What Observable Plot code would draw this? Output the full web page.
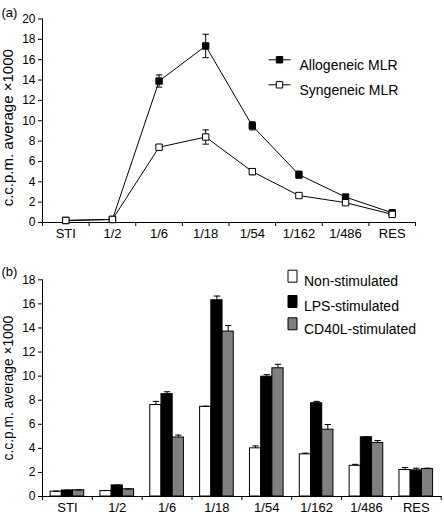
<!DOCTYPE html>
<html>
<head>
<meta charset="utf-8">
<script src="https://cdn.jsdelivr.net/npm/d3@7"></script>
<script src="https://cdn.jsdelivr.net/npm/@observablehq/plot@0.6"></script>
<style>
  body { margin: 0; background: white; }
  #chart svg { display: block; }
</style>
</head>
<body>
<div id="chart"></div>
<script>
// ---- data ----
const categories = ["STI", "1/2", "1/6", "1/18", "1/54", "1/162", "1/486", "RES"];

// Panel (a): line chart
const seriesA = ["Allogeneic MLR", "Syngeneic MLR"];
const alloMean = [0.2, 0.3, 13.9, 17.35, 9.5, 4.7, 2.5, 0.95];
const alloErr  = [0.05, 0.05, 0.6, 1.15, 0.4, 0.35, 0.2, 0.15];
const synMean  = [0.2, 0.3, 7.4, 8.4, 5.0, 2.65, 1.95, 0.8];
const synErr   = [0.05, 0.05, 0.2, 0.7, 0.3, 0.1, 0.1, 0.1];
const yTicksA  = [0, 2, 4, 6, 8, 10, 12, 14, 16, 18, 20];

// Panel (b): grouped bars
const seriesB = ["Non-stimulated", "LPS-stimulated", "CD40L-stimulated"];
const nonMean = [0.4, 0.45, 7.6, 7.45, 4.0, 3.5, 2.55, 2.2];
const nonErr  = [0.05, 0.05, 0.3, 0.05, 0.2, 0.1, 0.12, 0.2];
const lpsMean = [0.5, 0.92, 8.5, 16.3, 9.95, 7.75, 4.92, 2.17];
const lpsErr  = [0.03, 0.03, 0.2, 0.35, 0.17, 0.15, 0.03, 0.18];
const cdMean  = [0.52, 0.6, 4.9, 13.7, 10.65, 5.55, 4.45, 2.28];
const cdErr   = [0.02, 0.02, 0.2, 0.5, 0.33, 0.43, 0.2, 0.07];
const yTicksB = [0, 2, 4, 6, 8, 10, 12, 14, 16, 18];

const yLabel = "c.c.p.m. average \u00d71000";

// ---- tables ----
const tableA = [];
[[alloMean, alloErr], [synMean, synErr]].forEach(([m, e], s) => {
  categories.forEach((c, i) => tableA.push({series: seriesA[s], s, i, cat: c, value: m[i], err: e[i]}));
});
const tableB = [];
[[nonMean, nonErr], [lpsMean, lpsErr], [cdMean, cdErr]].forEach(([m, e], s) => {
  categories.forEach((c, i) => tableB.push({series: seriesB[s], s, i, cat: c, value: m[i], err: e[i]}));
});

const font = "'Liberation Sans', Arial, Helvetica, sans-serif";
const centers = categories.map((c, i) => i + 0.5);
const bounds = d3.range(categories.length + 1);

// custom symbols
const capSymbol = {draw(ctx) { ctx.moveTo(-3.2, 0); ctx.lineTo(3.2, 0); }};
const lineSquare = {draw(ctx) {
  ctx.moveTo(-11, 0); ctx.lineTo(-3.2, 0);
  ctx.moveTo(3.2, 0); ctx.lineTo(11, 0);
  ctx.moveTo(-3.2, -3.2); ctx.lineTo(3.2, -3.2); ctx.lineTo(3.2, 3.2); ctx.lineTo(-3.2, 3.2); ctx.closePath();
}};
const boxSymbol = {draw(ctx) {
  ctx.moveTo(-4.5, -6); ctx.lineTo(4.5, -6); ctx.lineTo(4.5, 6); ctx.lineTo(-4.5, 6); ctx.closePath();
}};

const fillA = {"Allogeneic MLR": "black", "Syngeneic MLR": "white"};
const fillB = {"Non-stimulated": "white", "LPS-stimulated": "black", "CD40L-stimulated": "#808080"};

// ---- panel (a) ----
const legendA = [];
seriesA.forEach((name, k) => {
  legendA.push(Plot.dot([name], {frameAnchor: "top-left", dx: 237, dy: 40.8 + 25 * k, symbol: lineSquare, fill: fillA[name], stroke: "black", strokeWidth: 1}));
  legendA.push(Plot.text([name], {frameAnchor: "top-left", dx: 257, dy: 40.8 + 25 * k, textAnchor: "start", fontSize: 14, fill: "black"}));
});

const plotA = Plot.plot({
  width: 444, height: 250,
  marginLeft: 42, marginRight: 29, marginTop: 18.5, marginBottom: 28,
  x: {domain: [0, categories.length], axis: null},
  y: {domain: [0, 20], axis: null},
  style: {fontFamily: font, fontSize: "12px", color: "black", background: "white", overflow: "visible"},
  marks: [
    Plot.frame({anchor: "left", stroke: "black"}),
    Plot.frame({anchor: "bottom", stroke: "black"}),
    Plot.axisY({ticks: yTicksA, tickSize: 4, tickPadding: 3, fontSize: 12, label: null, stroke: "black"}),
    Plot.axisX({ticks: bounds, tickSize: 4, tickFormat: () => "", label: null, stroke: "black"}),
    Plot.axisX({ticks: centers, tickSize: 0, tickPadding: 6, fontSize: 13, tickFormat: d => categories[Math.floor(d)], label: null}),
    Plot.text([yLabel], {frameAnchor: "left", textAnchor: "middle", dx: -34, dy: 7, rotate: -90, fontSize: 15, fill: "black"}),
    Plot.text(["(a)"], {frameAnchor: "top-left", dx: -41, dy: -11, textAnchor: "start", fontSize: 13, fill: "black"}),
    Plot.ruleX(tableA, {x: d => d.i + 0.5, y1: d => d.value - d.err, y2: d => d.value + d.err, stroke: "black", strokeWidth: 1}),
    Plot.dot(tableA, {x: d => d.i + 0.5, y: d => d.value - d.err, symbol: capSymbol, fill: "none", stroke: "black", strokeWidth: 1}),
    Plot.dot(tableA, {x: d => d.i + 0.5, y: d => d.value + d.err, symbol: capSymbol, fill: "none", stroke: "black", strokeWidth: 1}),
    Plot.line(tableA, {x: d => d.i + 0.5, y: "value", z: "series", stroke: "black", strokeWidth: 1}),
    Plot.dot(tableA, {x: d => d.i + 0.5, y: "value", symbol: "square", r: 3.6, fill: d => fillA[d.series], stroke: "black", strokeWidth: 1}),
    ...legendA
  ]
});

// ---- panel (b) ----
const pad = 0.1625, bw = 0.225;
const legendB = [];
const legendDy = [25.7, 51, 73.3];
seriesB.forEach((name, k) => {
  legendB.push(Plot.dot([name], {frameAnchor: "top-left", dx: 250, dy: legendDy[k] - 29.3, symbol: boxSymbol, fill: fillB[name], stroke: "black", strokeWidth: 1}));
  legendB.push(Plot.text([name], {frameAnchor: "top-left", dx: 261.5, dy: legendDy[k] - 29.3, textAnchor: "start", fontSize: 14, fill: "black"}));
});

const plotB = Plot.plot({
  width: 444, height: 264,
  marginLeft: 42, marginRight: 3.3, marginTop: 29.3, marginBottom: 18,
  x: {domain: [0, categories.length], axis: null},
  y: {domain: [0, 18], axis: null},
  style: {fontFamily: font, fontSize: "12px", color: "black", background: "white", overflow: "visible"},
  marks: [
    Plot.rectY(tableB, {x1: d => d.i + pad + d.s * bw, x2: d => d.i + pad + (d.s + 1) * bw, y: "value", fill: d => fillB[d.series], stroke: "black", strokeWidth: 1}),
    Plot.ruleX(tableB, {x: d => d.i + pad + (d.s + 0.5) * bw, y1: "value", y2: d => d.value + d.err, stroke: "black", strokeWidth: 1}),
    Plot.dot(tableB, {x: d => d.i + pad + (d.s + 0.5) * bw, y: d => d.value + d.err, symbol: capSymbol, fill: "none", stroke: "black", strokeWidth: 1}),
    Plot.frame({anchor: "left", stroke: "black"}),
    Plot.frame({anchor: "bottom", stroke: "black"}),
    Plot.axisY({ticks: yTicksB, tickSize: 4, tickPadding: 3, fontSize: 12, label: null, stroke: "black"}),
    Plot.axisX({ticks: bounds, tickSize: 4, tickFormat: () => "", label: null, stroke: "black"}),
    Plot.axisX({ticks: centers, tickSize: 0, tickPadding: 6, fontSize: 13, tickFormat: d => categories[Math.floor(d)], label: null}),
    Plot.text([yLabel], {frameAnchor: "left", textAnchor: "middle", dx: -34, dy: 0, rotate: -90, fontSize: 13.8, fill: "black"}),
    Plot.text(["(b)"], {frameAnchor: "top-left", dx: -41, dy: -13, textAnchor: "start", fontSize: 13, fill: "black"}),
    ...legendB
  ]
});

const host = document.getElementById("chart");
host.appendChild(plotA);
host.appendChild(plotB);
</script>
</body>
</html>
